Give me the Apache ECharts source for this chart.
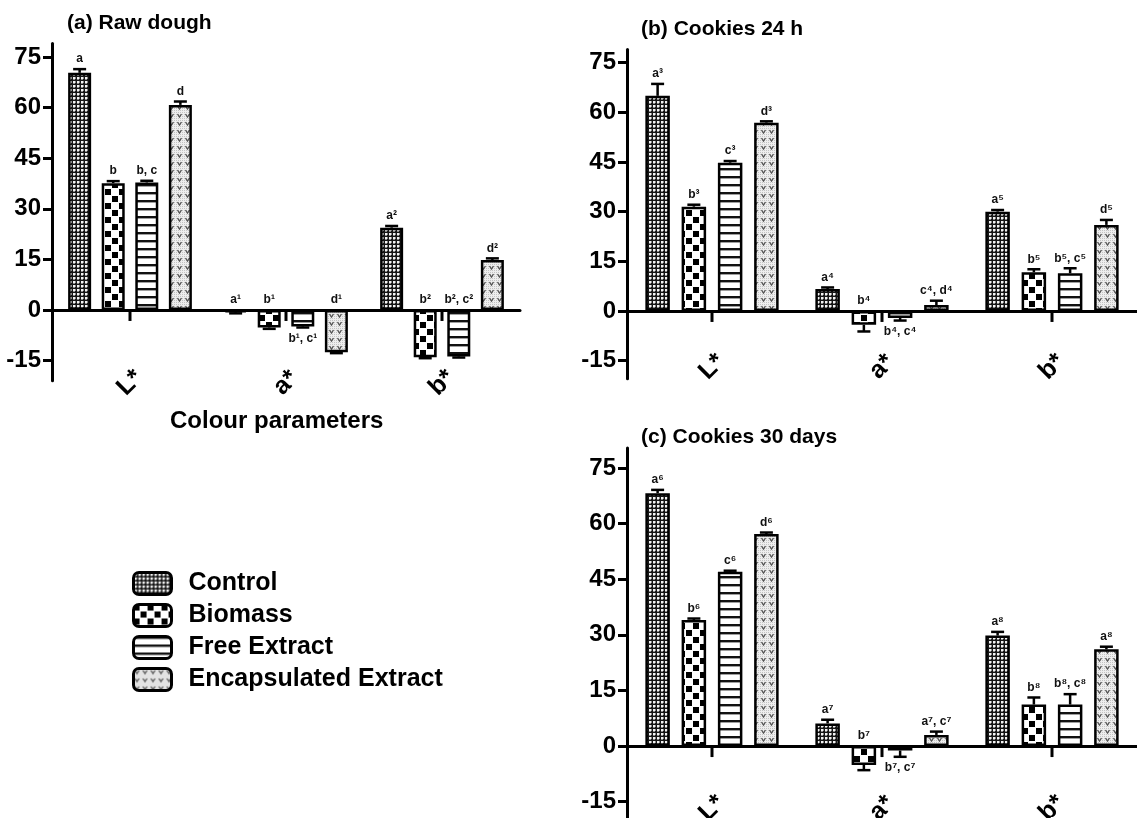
<!DOCTYPE html>
<html>
<head>
<meta charset="utf-8">
<title>Colour parameters of dough and cookies</title>
<script src="https://cdn.jsdelivr.net/npm/echarts@6/dist/echarts.min.js"></script>
<style>
  html, body { margin: 0; padding: 0; background: #fff; }
  #chart { width: 1137px; height: 818px; }
</style>
</head>
<body>
<div id="chart"></div>
<script>
// ---- data ----
const categories = ['L*', 'a*', 'b*'];
const treatments = ['Control', 'Biomass', 'Free Extract', 'Encapsulated Extract'];
const yTickValues = [-15, 0, 15, 30, 45, 60, 75];

// (a) Raw dough — means per colour parameter (L*, a*, b*)
const rawControl = [70.3, -0.7, 24.4];
const rawBiomass = [37.6, -5.2, -14.0];
const rawFree = [37.8, -4.9, -13.8];
const rawEncap = [60.8, -12.5, 14.8];
const rawControlErr = [1.1, 0.3, 0.5];
const rawBiomassErr = [0.6, 0.4, 0.3];
const rawFreeErr = [0.5, 0.3, 0.3];
const rawEncapErr = [1.0, 0.3, 0.5];
const rawControlLetters = ['a', 'a¹', 'a²'];
const rawBiomassLetters = ['b', 'b¹', 'b²'];
const rawFreeLetters = ['b, c', 'b¹, c¹', 'b², c²'];
const rawEncapLetters = ['d', 'd¹', 'd²'];

// (b) Cookies 24 h
const c24Control = [65.0, 6.6, 30.0];
const c24Biomass = [31.5, -4.2, 11.7];
const c24Free = [44.8, -2.1, 11.4];
const c24Encap = [56.9, 1.8, 26.0];
const c24ControlErr = [3.6, 0.5, 0.5];
const c24BiomassErr = [0.6, 2.0, 0.9];
const c24FreeErr = [0.5, 0.8, 1.5];
const c24EncapErr = [0.4, 1.3, 1.5];
const c24ControlLetters = ['a³', 'a⁴', 'a⁵'];
const c24BiomassLetters = ['b³', 'b⁴', 'b⁵'];
const c24FreeLetters = ['c³', 'b⁴, c⁴', 'b⁵, c⁵'];
const c24EncapLetters = ['d³', 'c⁴, d⁴', 'd⁵'];

// (c) Cookies 30 days
const c30Control = [68.2, 6.1, 29.8];
const c30Biomass = [34.0, -5.1, 11.2];
const c30Free = [47.0, -1.2, 11.2];
const c30Encap = [57.2, 3.0, 26.1];
const c30ControlErr = [0.9, 1.0, 1.0];
const c30BiomassErr = [0.4, 1.4, 1.9];
const c30FreeErr = [0.3, 1.7, 2.8];
const c30EncapErr = [0.4, 0.9, 0.7];
const c30ControlLetters = ['a⁶', 'a⁷', 'a⁸'];
const c30BiomassLetters = ['b⁶', 'b⁷', 'b⁸'];
const c30FreeLetters = ['c⁶', 'b⁷, c⁷', 'b⁸, c⁸'];
const c30EncapLetters = ['d⁶', 'a⁷, c⁷', 'a⁸'];

// ---- layout and style ----
const FONT = '"Liberation Sans", Arial, "DejaVu Sans", sans-serif';

const panels = [
  {
    title: '(a) Raw dough', titlePos: [67, 13],
    grid: { left: 52, top: 43.5, width: 468, height: 337.3 }, yMin: -21, yMax: 79,
    barWidth: 23, barGap: '46%', labelMargin: 2,
    values: [rawControl, rawBiomass, rawFree, rawEncap],
    errors: [rawControlErr, rawBiomassErr, rawFreeErr, rawEncapErr],
    letters: [rawControlLetters, rawBiomassLetters, rawFreeLetters, rawEncapLetters],
    // [treatment index, category index] whose letters sit under the bar
    lettersBelow: [[2, 1]]
  },
  {
    title: '(b) Cookies 24 h', titlePos: [641, 19],
    grid: { left: 627, top: 49.5, width: 510, height: 329.3 }, yMin: -20.5, yMax: 79,
    barWidth: 24.5, barGap: '48%', labelMargin: -12,
    values: [c24Control, c24Biomass, c24Free, c24Encap],
    errors: [c24ControlErr, c24BiomassErr, c24FreeErr, c24EncapErr],
    letters: [c24ControlLetters, c24BiomassLetters, c24FreeLetters, c24EncapLetters],
    lettersBelow: [[2, 1]]
  },
  {
    title: '(c) Cookies 30 days', titlePos: [641, 427],
    grid: { left: 627, top: 448, width: 510, height: 372.2 }, yMin: -20, yMax: 80.4,
    barWidth: 24.5, barGap: '48%', labelMargin: -12,
    values: [c30Control, c30Biomass, c30Free, c30Encap],
    errors: [c30ControlErr, c30BiomassErr, c30FreeErr, c30EncapErr],
    letters: [c30ControlLetters, c30BiomassLetters, c30FreeLetters, c30EncapLetters],
    lettersBelow: [[2, 1]]
  }
];

// ---- fill patterns ----
function tile(w, h, draw) {
  const c = document.createElement('canvas');
  c.width = w; c.height = h;
  draw(c.getContext('2d'));
  return c;
}
const patterns = [
  // Control: fine white dots on black
  tile(4, 4, g => {
    g.fillStyle = '#151515'; g.fillRect(0, 0, 4, 4);
    g.fillStyle = '#f4f4f4'; g.fillRect(1, 1, 2, 2);
    g.fillStyle = '#8a8a8a'; g.fillRect(3, 1, 1, 2); g.fillRect(1, 3, 2, 1);
  }),
  // Biomass: coarse checkerboard
  tile(14, 14, g => {
    g.fillStyle = '#fff'; g.fillRect(0, 0, 14, 14);
    g.fillStyle = '#000'; g.fillRect(0, 0, 6, 6); g.fillRect(7, 7, 6, 6);
  }),
  // Free Extract: horizontal stripes
  tile(8, 8, g => {
    g.fillStyle = '#fff'; g.fillRect(0, 0, 8, 8);
    g.fillStyle = '#111'; g.fillRect(0, 0, 8, 2.4);
  }),
  // Encapsulated Extract: light stipple with small chevrons
  tile(8, 8, g => {
    g.fillStyle = '#eeeeee'; g.fillRect(0, 0, 8, 8);
    g.fillStyle = '#c4c4c4';
    for (let x = 0; x < 8; x += 2) for (let y = 0; y < 8; y += 2) g.fillRect(x, y, 1, 1);
    g.strokeStyle = '#555'; g.lineWidth = 1.3;
    g.beginPath(); g.moveTo(1.5, 2); g.lineTo(3.5, 5); g.lineTo(5.5, 2); g.stroke();
  })
];

// ---- build options ----
const grids = [], xAxes = [], yAxes = [], series = [], graphics = [];

panels.forEach((p, pi) => {
  grids.push(Object.assign({ containLabel: false, outerBoundsMode: 'none' }, p.grid));
  xAxes.push({
    type: 'category', gridIndex: pi, data: categories,
    axisLine: { onZero: true, lineStyle: { color: '#000', width: 3 } },
    axisTick: { show: false },
    axisLabel: {
      rotate: 45, align: 'center', verticalAlign: 'middle', margin: p.labelMargin,
      fontSize: 25, fontWeight: 'bold', color: '#000', fontFamily: FONT
    },
    splitLine: { show: false }
  });
  yAxes.push({
    type: 'value', gridIndex: pi, min: p.yMin, max: p.yMax,
    axisLine: { show: true, lineStyle: { color: '#000', width: 3 } },
    axisTick: { show: true, length: 9, lineStyle: { color: '#000', width: 3 }, customValues: yTickValues },
    axisLabel: {
      customValues: yTickValues, fontSize: 24, fontWeight: 'bold', color: '#000',
      fontFamily: FONT, margin: 11
    },
    splitLine: { show: false }
  });

  treatments.forEach((name, si) => {
    series.push({
      type: 'bar', name: name, xAxisIndex: pi, yAxisIndex: pi,
      data: p.values[si], barWidth: p.barWidth, barGap: p.barGap,
      itemStyle: { color: { image: patterns[si], repeat: 'repeat' }, borderColor: '#000', borderWidth: 2.5 },
      emphasis: { disabled: true },
      animation: false
    });
  });

  // error bars, significance letters and category ticks on the zero line
  const items = [];
  treatments.forEach((name, si) => {
    categories.forEach((c, ci) => {
      const below = p.lettersBelow.some(b => b[0] === si && b[1] === ci);
      items.push({ value: [ci, p.values[si][ci], p.errors[si][ci], si], text: p.letters[si][ci], below: below });
    });
  });
  const pitch = p.barWidth * (1 + parseFloat(p.barGap) / 100);
  series.push({
    type: 'custom', name: 'err' + pi, xAxisIndex: pi, yAxisIndex: pi,
    data: items.map(it => it.value),
    animation: false, silent: true, z: 5,
    renderItem: function (params, api) {
      const it = items[params.dataIndex];
      const ci = api.value(0), v = api.value(1), e = api.value(2), si = api.value(3);
      const base = api.coord([ci, 0]);
      const xc = base[0] + (si - 1.5) * pitch;
      const dir = v >= 0 ? 1 : -1;
      const yVal = api.coord([ci, v])[1];
      const yEnd = api.coord([ci, v + dir * e])[1];
      let ty;
      if (it.below) ty = yEnd + 11;
      else if (v < 0) ty = base[1] - 10;
      else ty = yEnd - 10;
      const children = [
        { type: 'line', shape: { x1: xc, y1: yVal, x2: xc, y2: yEnd }, style: { stroke: '#000', lineWidth: 2.5 } },
        { type: 'line', shape: { x1: xc - 6.5, y1: yEnd, x2: xc + 6.5, y2: yEnd }, style: { stroke: '#000', lineWidth: 2.5 } },
        { type: 'text', style: { text: it.text, x: xc, y: ty, align: 'center', verticalAlign: 'middle',
            font: 'bold 12px ' + FONT, fill: '#111' } }
      ];
      if (si === 0) {
        children.push({ type: 'line', shape: { x1: base[0], y1: base[1], x2: base[0], y2: base[1] + 11 },
          style: { stroke: '#000', lineWidth: 3 } });
      }
      return { type: 'group', children: children };
    }
  });

  graphics.push({
    type: 'text', left: p.titlePos[0], top: p.titlePos[1],
    style: { text: p.title, font: 'bold 21px ' + FONT, fill: '#000' }
  });
});

graphics.push({
  type: 'text', left: 170, top: 409,
  style: { text: 'Colour parameters', font: 'bold 24px ' + FONT, fill: '#000' }
});

const chart = echarts.init(document.getElementById('chart'), null, { renderer: 'canvas' });
chart.setOption({
  backgroundColor: '#fff',
  animation: false,
  grid: grids,
  xAxis: xAxes,
  yAxis: yAxes,
  legend: {
    data: treatments, orient: 'vertical', left: 132, top: 571, padding: 0,
    itemWidth: 38, itemHeight: 22, itemGap: 7, icon: 'roundRect',
    itemStyle: { borderColor: '#000', borderWidth: 3 },
    textStyle: { fontSize: 25, fontWeight: 'bold', color: '#000', fontFamily: FONT, padding: [0, 0, 0, 12] },
    selectedMode: false
  },
  graphic: graphics,
  series: series
});
</script>
</body>
</html>
